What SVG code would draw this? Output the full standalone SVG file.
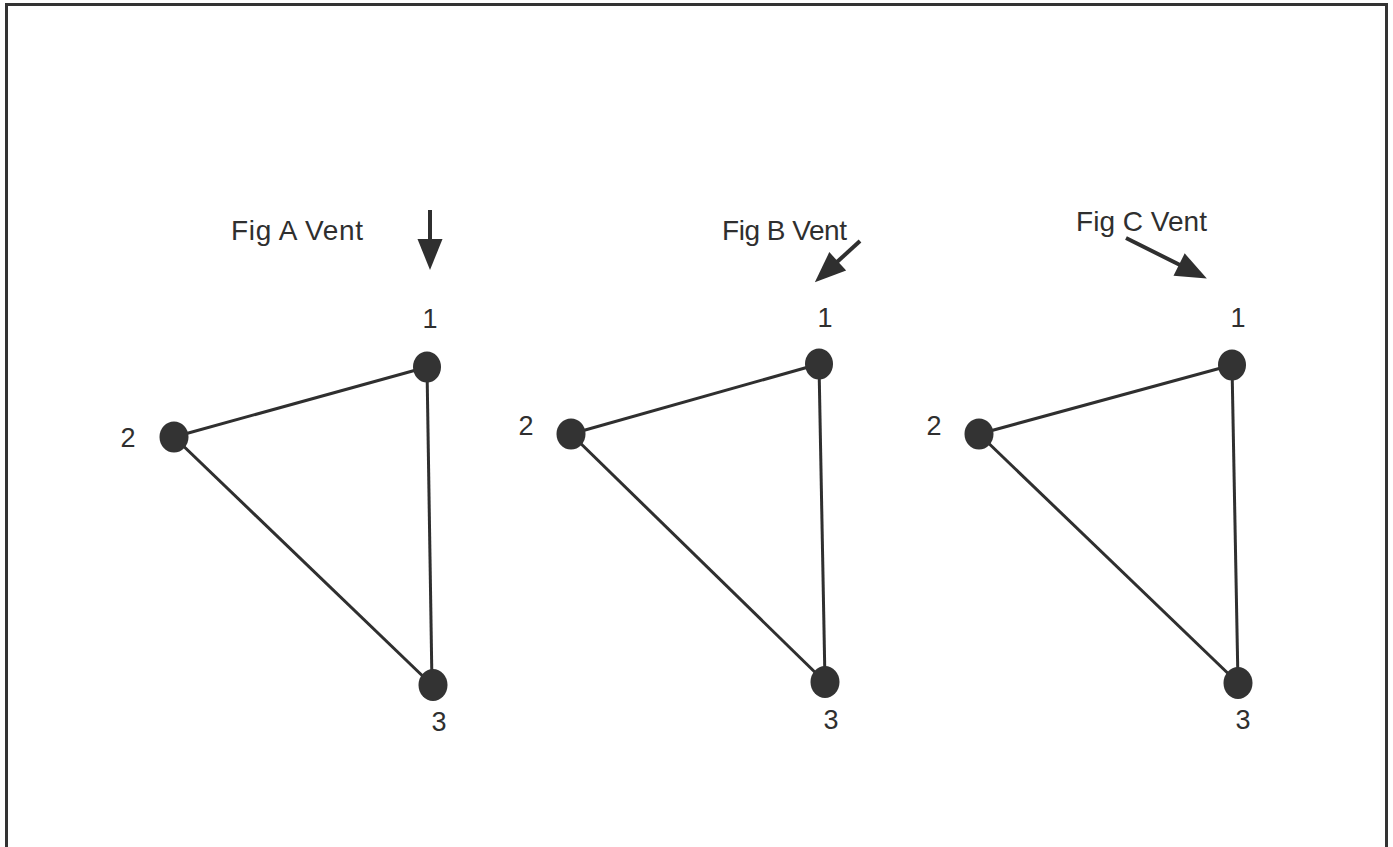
<svg xmlns="http://www.w3.org/2000/svg" width="1393" height="847" viewBox="0 0 1393 847">
<style>
.t{font-family:"Liberation Sans",Arial,sans-serif;font-size:28px;fill:#2f2f2f}
.d{font-family:"Liberation Sans",Arial,sans-serif;font-size:27px;fill:#2f2f2f;text-anchor:middle}
.e{stroke:#2f2f2f;stroke-width:3;fill:none}
.n{fill:#333}
.a{stroke:#2f2f2f;stroke-width:4;fill:none;marker-end:url(#ah)}
</style>
<defs>
<marker id="ah" markerUnits="userSpaceOnUse" markerWidth="34" markerHeight="28" viewBox="0 0 34 28" refX="1" refY="14" orient="auto" overflow="visible">
<path d="M0,1.5 L31,14 L0,26.5 z" fill="#2f2f2f"/>
</marker>
</defs>
<rect width="1393" height="847" fill="#fff"/>
<path d="M6.5,847 V4.5 H1386.5 V847" stroke="#333" stroke-width="3" fill="none"/>
<g id="connectors">
<line class="e" x1="427" y1="367" x2="174" y2="437"/>
<line class="e" x1="427" y1="367" x2="432" y2="685"/>
<line class="e" x1="174" y1="437" x2="432" y2="685"/>
<line class="e" x1="819" y1="364" x2="571" y2="434"/>
<line class="e" x1="819" y1="364" x2="825" y2="682"/>
<line class="e" x1="571" y1="434" x2="825" y2="682"/>
<line class="e" x1="1232" y1="365" x2="979" y2="434"/>
<line class="e" x1="1232" y1="365" x2="1238" y2="683"/>
<line class="e" x1="979" y1="434" x2="1238" y2="683"/>
<line class="a" x1="430" y1="210" x2="430" y2="240"/>
<line class="a" x1="860" y1="241" x2="837" y2="262"/>
<line class="a" x1="1126" y1="238" x2="1180" y2="265"/>
</g>
<g id="figA">
<text class="t" x="231" y="240" textLength="132">Fig A Vent</text>
<g id="A1"><ellipse class="n" cx="427" cy="367" rx="14" ry="15.5"/><text class="d" x="430" y="328">1</text></g>
<g id="A2"><ellipse class="n" cx="174" cy="437" rx="14.5" ry="15.5"/><text class="d" x="128" y="447">2</text></g>
<g id="A3"><ellipse class="n" cx="433" cy="685" rx="14.5" ry="16"/><text class="d" x="439" y="731">3</text></g>
</g>
<g id="figB">
<text class="t" x="722" y="240" textLength="125">Fig B Vent</text>
<g id="B1"><ellipse class="n" cx="819" cy="364" rx="14" ry="15.5"/><text class="d" x="825" y="327">1</text></g>
<g id="B2"><ellipse class="n" cx="571" cy="434" rx="14.5" ry="15.5"/><text class="d" x="526" y="435">2</text></g>
<g id="B3"><ellipse class="n" cx="825" cy="682" rx="14.5" ry="16"/><text class="d" x="831" y="729">3</text></g>
</g>
<g id="figC">
<text class="t" x="1076" y="231" textLength="131">Fig C Vent</text>
<g id="C1"><ellipse class="n" cx="1232" cy="365" rx="14" ry="15.5"/><text class="d" x="1238" y="327">1</text></g>
<g id="C2"><ellipse class="n" cx="979" cy="434" rx="14.5" ry="15.5"/><text class="d" x="934" y="435">2</text></g>
<g id="C3"><ellipse class="n" cx="1238" cy="683" rx="14.5" ry="16"/><text class="d" x="1243" y="729">3</text></g>
</g>
</svg>
